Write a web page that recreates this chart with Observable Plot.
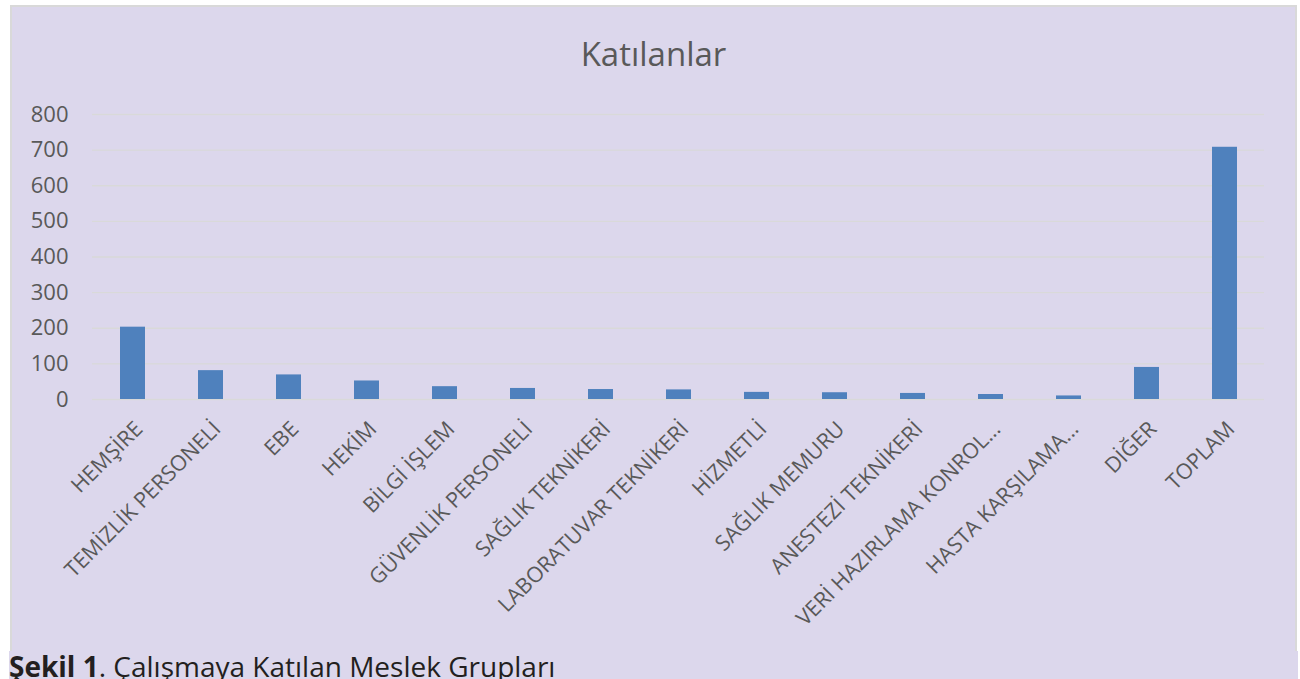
<!DOCTYPE html>
<html>
<head>
<meta charset="utf-8">
<script src="https://cdn.jsdelivr.net/npm/d3@7"></script>
<script src="https://cdn.jsdelivr.net/npm/@observablehq/plot@0.6"></script>
<style>
  html, body { margin: 0; padding: 0; background: #ffffff; width: 1300px; height: 679px; overflow: hidden; }
  #box { position: absolute; left: 10px; top: 5px; width: 1283px; height: 646px; background: #DCD7EC;
         border-left: 2px solid #D9D9D9; border-top: 2px solid #D9D9D9; border-right: 2px solid #D9D9D9; }
  #title { position: absolute; left: 0; top: 0; width: 1283px; text-align: center; font-family: "Open Sans", sans-serif;
           font-size: 33px; color: #595959; line-height: 1; padding-top: 30px; }
  #chart { position: absolute; left: 0; top: 76px; }
  #caption { position: absolute; left: 9px; top: 651px; width: 1289px; height: 40px; background: #DCD7EC;
             font-family: "Open Sans", sans-serif; font-size: 28px; color: #231F20; line-height: 1; padding-top: 1px; }
</style>
</head>
<body>
<div id="box">
  <div id="title">Katılanlar</div>
  <div id="chart"></div>
</div>
<div id="caption"><b>Şekil 1</b>. Çalışmaya Katılan Meslek Grupları</div>
<script>
const categories = ["HEMŞİRE", "TEMİZLİK PERSONELİ", "EBE", "HEKİM", "BİLGİ İŞLEM", "GÜVENLİK PERSONELİ",
  "SAĞLIK TEKNİKERİ", "LABORATUVAR TEKNİKERİ", "HİZMETLİ", "SAĞLIK MEMURU", "ANESTEZİ TEKNİKERİ",
  "VERİ HAZIRLAMA KONROL...", "HASTA KARŞILAMA...", "DİĞER", "TOPLAM"];
const values = [203, 81, 69, 52, 36, 31, 28, 27, 20, 19, 17, 14, 10, 90, 708];
const yTicks = [0, 100, 200, 300, 400, 500, 600, 700, 800];

const data = categories.map((c, i) => ({cat: c, val: values[i]}));

const chart = Plot.plot({
  width: 1283,
  height: 575,
  marginTop: 31,
  marginBottom: 259,
  marginLeft: 80,
  marginRight: 31,
  style: {background: "transparent", fontFamily: "Open Sans, sans-serif", color: "#595959", overflow: "visible"},
  x: {domain: categories, paddingInner: 0.68, paddingOuter: 0.34, label: null},
  y: {domain: [0, 800], label: null},
  marks: [
    Plot.ruleY(yTicks, {stroke: "#D9D9D9", strokeWidth: 1.3}),
    Plot.barY(data, {x: "cat", y: "val", fill: "#4F81BD"}),
    Plot.axisY({ticks: yTicks, tickSize: 0, tickPadding: 24, fontSize: 22, label: null}),
    Plot.axisX({tickSize: 0, tickRotate: -45, tickPadding: 26, dx: 6, fontSize: 21.5, label: null})
  ]
});
document.getElementById("chart").appendChild(chart);
</script>
</body>
</html>
